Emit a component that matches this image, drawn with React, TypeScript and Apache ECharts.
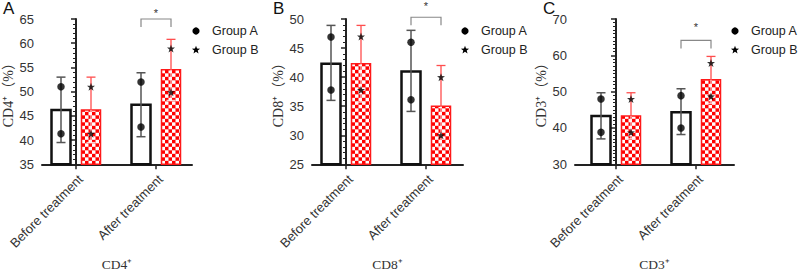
import React, { useEffect, useRef } from "react";
import * as echarts from "echarts";

// ---------- data ----------
const categories = ["Before treatment", "After treatment"];

// Panel A: CD4+
const cd4MeanA = [46.2, 47.3];
const cd4LowA = [39.5, 40.7];
const cd4HighA = [53.0, 53.9];
const cd4PtsA = [[51.0, 41.3], [52.0, 42.7]];
const cd4MeanB = [46.2, 54.5];
const cd4LowB = [39.5, 48.2];
const cd4HighB = [53.0, 60.8];
const cd4PtsB = [[51.0, 41.3], [58.9, 49.9]];

// Panel B: CD8+
const cd8MeanA = [42.3, 40.95];
const cd8LowA = [36.0, 34.1];
const cd8HighA = [48.9, 48.05];
const cd8PtsA = [[46.9, 37.8], [46.0, 36.1]];
const cd8MeanB = [42.3, 35.0];
const cd8LowB = [35.7, 28.0];
const cd8HighB = [48.9, 42.0];
const cd8PtsB = [[47.0, 37.8], [40.0, 30.0]];

// Panel C: CD3+
const cd3MeanA = [43.3, 44.3];
const cd3LowA = [37.0, 38.2];
const cd3HighA = [49.7, 50.8];
const cd3PtsA = [[48.0, 38.8], [48.9, 40.0]];
const cd3MeanB = [43.3, 53.3];
const cd3LowB = [37.0, 46.8];
const cd3HighB = [49.7, 59.7];
const cd3PtsB = [[48.0, 38.8], [57.9, 48.7]];

// y axes
const yMins = [35, 25, 30];
const yMaxs = [65, 50, 70];
const yIntervals = [5, 5, 10];
const yMinorSplits = [5, 5, 10];
// significance brackets: [category index, bracket value, star value]
const sigA = [1, 65.0, 66.2];
const sigB = [1, 50.3, 52.3];
const sigC = [1, 64.1, 67.9];

const yNames = ["CD4⁺（%）", "CD8⁺（%）", "CD3⁺（%）"];
const xNames = ["CD4⁺", "CD8⁺", "CD3⁺"];
const panelLetters = ["A", "B", "C"];

// ---------- layout ----------
const layout = [
  { left: 42, width: 150, xMin: -0.425, letterX: 3, legendX: 196, nameGap: 23 },
  { left: 312, width: 151, xMin: -0.425, letterX: 273, legendX: 465, nameGap: 25 },
  { left: 575, width: 159, xMin: -0.5125, letterX: 543, legendX: 735, nameGap: 24 },
];
const UNIT = 80; // px per category
const OFF = 0.1875;
const BAR_W = 0.2375;
const SANS = "Liberation Sans, Arial, Helvetica, sans-serif";
const SERIF = "Liberation Serif, Times New Roman, serif";
const SERIF_CJK = "Liberation Serif, Noto Sans CJK SC, serif";

const STAR_PATH =
  "path://M0,-10L2.35,-3.24L9.51,-3.09L3.8,1.24L5.88,8.09L0,4.2L-5.88,8.09L-3.8,1.24L-9.51,-3.09L-2.35,-3.24Z";

function starPoints(cx: number, cy: number, r: number) {
  const pts: number[][] = [];
  for (let i = 0; i < 10; i++) {
    const rr = i % 2 === 0 ? r : r * 0.42;
    const a = -Math.PI / 2 + (i * Math.PI) / 5;
    pts.push([cx + rr * Math.cos(a), cy + rr * Math.sin(a)]);
  }
  return pts;
}

type PanelData = {
  meanA: number[]; lowA: number[]; highA: number[]; ptsA: number[][];
  meanB: number[]; lowB: number[]; highB: number[]; ptsB: number[][];
  sig: number[];
};

const panels: PanelData[] = [
  { meanA: cd4MeanA, lowA: cd4LowA, highA: cd4HighA, ptsA: cd4PtsA, meanB: cd4MeanB, lowB: cd4LowB, highB: cd4HighB, ptsB: cd4PtsB, sig: sigA },
  { meanA: cd8MeanA, lowA: cd8LowA, highA: cd8HighA, ptsA: cd8PtsA, meanB: cd8MeanB, lowB: cd8LowB, highB: cd8HighB, ptsB: cd8PtsB, sig: sigB },
  { meanA: cd3MeanA, lowA: cd3LowA, highA: cd3HighA, ptsA: cd3PtsA, meanB: cd3MeanB, lowB: cd3LowB, highB: cd3HighB, ptsB: cd3PtsB, sig: sigC },
];

function buildOption() {
  const grid: any[] = [];
  const xAxis: any[] = [];
  const yAxis: any[] = [];
  const series: any[] = [];
  const graphic: any[] = [];

  panels.forEach((p, i) => {
    const L = layout[i];
    const yMin = yMins[i];
    grid.push({ left: L.left, top: 19, width: L.width, height: 150 });
    xAxis.push({
      type: "value",
      gridIndex: i,
      min: L.xMin,
      max: L.xMin + L.width / UNIT,
      name: xNames[i],
      nameLocation: "middle",
      nameGap: 90,
      nameTextStyle: { fontFamily: SERIF, fontSize: 13.5, color: "#333" },
      axisLine: { show: true, onZero: false, lineStyle: { color: "#222", width: 2 } },
      axisTick: { show: true, customValues: [0, 1], length: 5, lineStyle: { color: "#222", width: 1.5 } },
      axisLabel: {
        show: true,
        customValues: [0, 1],
        rotate: 45,
        margin: 8,
        verticalAlign: "top",
        fontSize: 13,
        fontFamily: SANS,
        color: "#333",
        formatter: (v: number) => categories[Math.round(v)] ?? "",
      },
      splitLine: { show: false },
    });
    yAxis.push({
      type: "value",
      gridIndex: i,
      min: yMin,
      max: yMaxs[i],
      interval: yIntervals[i],
      name: yNames[i],
      nameLocation: "middle",
      nameGap: L.nameGap,
      nameTextStyle: { fontFamily: SERIF_CJK, fontSize: 14, color: "#333" },
      axisLine: { show: true, lineStyle: { color: "#222", width: 2 } },
      axisTick: { show: true, length: 5, lineStyle: { color: "#222", width: 1.5 } },
      minorTick: { show: true, splitNumber: yMinorSplits[i], length: 3, lineStyle: { color: "#222", width: 1 } },
      axisLabel: { fontSize: 13, fontFamily: SANS, color: "#333", margin: 8 },
      splitLine: { show: false },
    });

    // bars
    const barData: any[] = [];
    p.meanA.forEach((m, c) => barData.push([c - OFF, m, 0]));
    p.meanB.forEach((m, c) => barData.push([c + OFF, m, 1]));
    series.push({
      type: "custom",
      xAxisIndex: i,
      yAxisIndex: i,
      z: 2,
      data: barData,
      renderItem: (params: any, api: any) => {
        const x = api.value(0);
        const v = api.value(1);
        const kind = api.value(2);
        const top = api.coord([x, v]);
        const bottom = api.coord([x, yMin]);
        const w = api.size([BAR_W, 0])[0];
        const left = top[0] - w / 2;
        const h = bottom[1] - top[1];
        if (kind === 0) {
          return {
            type: "rect",
            shape: { x: left, y: top[1], width: w, height: h },
            style: { fill: "#fff", stroke: "#111", lineWidth: 2.5 },
          };
        }
        const children: any[] = [
          { type: "rect", shape: { x: left, y: top[1], width: w, height: h }, style: { fill: "#ff0000" } },
        ];
        const cell = 3.5;
        for (let r = 0; r * cell < h; r++) {
          for (let c = 0; c * cell < w; c++) {
            if ((r + c) % 2 !== 0) continue;
            let y0 = bottom[1] - (r + 1) * cell;
            let hh = cell;
            if (y0 < top[1]) {
              hh -= top[1] - y0;
              y0 = top[1];
            }
            const ww = Math.min(cell, w - c * cell);
            children.push({
              type: "rect",
              shape: { x: left + c * cell, y: y0, width: ww, height: hh },
              style: { fill: "#ffffff" },
            });
          }
        }
        children.push({
          type: "rect",
          shape: { x: left, y: top[1], width: w, height: h },
          style: { fill: "none", stroke: "#ff1a1a", lineWidth: 1.5 },
        });
        return { type: "group", children };
      },
    });

    // error bars
    const errData: any[] = [];
    p.meanA.forEach((m, c) => errData.push([c - OFF, p.lowA[c], p.highA[c], m, 0]));
    p.meanB.forEach((m, c) => errData.push([c + OFF, p.lowB[c], p.highB[c], m, 1]));
    series.push({
      type: "custom",
      xAxisIndex: i,
      yAxisIndex: i,
      z: 3,
      data: errData,
      renderItem: (params: any, api: any) => {
        const x = api.value(0);
        const lo = api.coord([x, api.value(1)]);
        const hi = api.coord([x, api.value(2)]);
        const mid = api.coord([x, api.value(3)]);
        const kind = api.value(4);
        const cap = 4.5;
        if (kind === 0) {
          const st = { stroke: "#555", lineWidth: 1.5 };
          return {
            type: "group",
            children: [
              { type: "line", shape: { x1: lo[0], y1: lo[1], x2: hi[0], y2: hi[1] }, style: st },
              { type: "line", shape: { x1: hi[0] - cap, y1: hi[1], x2: hi[0] + cap, y2: hi[1] }, style: st },
              { type: "line", shape: { x1: lo[0] - cap, y1: lo[1], x2: lo[0] + cap, y2: lo[1] }, style: st },
            ],
          };
        }
        const st = { stroke: "#ff4d4d", lineWidth: 1.3 };
        const stLo = { stroke: "rgba(255,235,235,0.85)", lineWidth: 1.2 };
        return {
          type: "group",
          children: [
            { type: "line", shape: { x1: mid[0], y1: mid[1], x2: hi[0], y2: hi[1] }, style: st },
            { type: "line", shape: { x1: hi[0] - cap, y1: hi[1], x2: hi[0] + cap, y2: hi[1] }, style: st },
            { type: "line", shape: { x1: mid[0], y1: mid[1], x2: lo[0], y2: lo[1] }, style: stLo },
            { type: "line", shape: { x1: lo[0] - cap, y1: lo[1], x2: lo[0] + cap, y2: lo[1] }, style: stLo },
          ],
        };
      },
    });

    // points
    const ptsA: any[] = [];
    p.ptsA.forEach((arr, c) => arr.forEach((v) => ptsA.push([c - OFF, v])));
    const ptsB: any[] = [];
    p.ptsB.forEach((arr, c) => arr.forEach((v) => ptsB.push([c + OFF, v])));
    series.push({
      type: "scatter",
      xAxisIndex: i,
      yAxisIndex: i,
      z: 4,
      symbol: "circle",
      symbolSize: 7.5,
      itemStyle: { color: "#000" },
      data: ptsA,
    });
    series.push({
      type: "scatter",
      xAxisIndex: i,
      yAxisIndex: i,
      z: 4,
      symbol: STAR_PATH,
      symbolSize: 8,
      itemStyle: { color: "#000" },
      data: ptsB,
    });

    // significance bracket
    series.push({
      type: "custom",
      xAxisIndex: i,
      yAxisIndex: i,
      z: 5,
      clip: false,
      data: [[p.sig[0], p.sig[1], p.sig[2]]],
      renderItem: (params: any, api: any) => {
        const c = api.value(0);
        const a = api.coord([c - OFF, api.value(1)]);
        const b = api.coord([c + OFF, api.value(1)]);
        const s = api.coord([c, api.value(2)]);
        const st = { stroke: "#888", lineWidth: 1.2 };
        return {
          type: "group",
          children: [
            { type: "polyline", shape: { points: [[a[0], a[1] + 8], [a[0], a[1]], [b[0], b[1]], [b[0], b[1] + 8]] }, style: { ...st, fill: "none" } },
            { type: "text", x: s[0], y: s[1], style: { text: "*", fill: "#333", fontSize: 11, fontFamily: SANS, align: "center", verticalAlign: "middle" } },
          ],
        };
      },
    });

    // panel letter
    graphic.push({
      type: "text",
      left: L.letterX,
      top: 0,
      style: { text: panelLetters[i], fontSize: 17, fontFamily: SANS, fill: "#111" },
    });
    // legend
    graphic.push({ type: "circle", shape: { cx: L.legendX, cy: 31, r: 3.6 }, style: { fill: "#000" } });
    graphic.push({ type: "polygon", shape: { points: starPoints(L.legendX, 50, 4.3) }, style: { fill: "#000" } });
    graphic.push({
      type: "text",
      x: L.legendX + 16,
      y: 31,
      style: { text: "Group A", fontSize: 12.5, fontFamily: SANS, fill: "#222", verticalAlign: "middle" },
    });
    graphic.push({
      type: "text",
      x: L.legendX + 16,
      y: 50,
      style: { text: "Group B", fontSize: 12.5, fontFamily: SANS, fill: "#222", verticalAlign: "middle" },
    });
  });

  return {
    animation: false,
    backgroundColor: "#ffffff",
    grid,
    xAxis,
    yAxis,
    series,
    graphic,
  };
}

export default function App() {
  const ref = useRef<HTMLDivElement>(null);
  useEffect(() => {
    if (!ref.current) return;
    const chart = echarts.init(ref.current, undefined, { renderer: "svg" });
    chart.setOption(buildOption() as any);
    return () => chart.dispose();
  }, []);
  return (
    <div
      ref={ref}
      style={{ position: "absolute", left: 0, top: 0, width: 800, height: 276, background: "#fff" }}
    />
  );
}
